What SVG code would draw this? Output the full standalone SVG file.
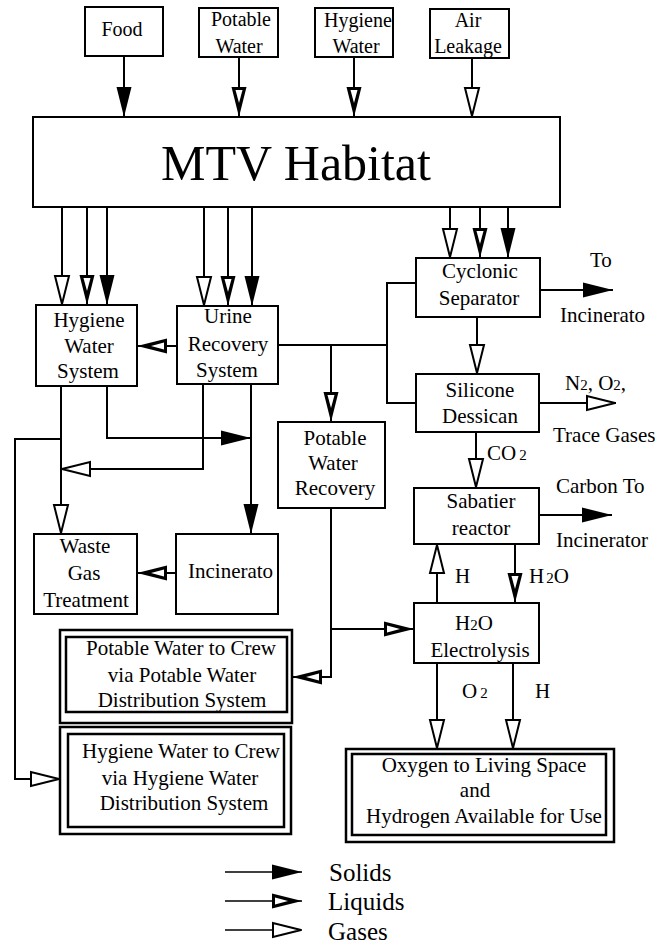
<svg xmlns="http://www.w3.org/2000/svg" width="668" height="948" viewBox="0 0 668 948">
<style>
.box{fill:#fff;stroke:#000;stroke-width:2}
.dbl{fill:none;stroke:#000;stroke-width:2.5}
text{font-family:"Liberation Serif","Times New Roman",serif;fill:#000}
.t{font-size:21px;text-anchor:middle}
.ts{font-size:20px;text-anchor:middle}
.l{font-size:21px}
.lg{font-size:25px}
.sub{font-size:15px}
</style>
<defs>
<marker id="sol" markerUnits="userSpaceOnUse" markerWidth="40" markerHeight="20" viewBox="-35 -10 40 20" refX="0" refY="0" orient="auto" overflow="visible">
<path d="M0,0 L-30,-7.5 L-30,7.5 Z" fill="#000"/>
</marker>
<marker id="liq" markerUnits="userSpaceOnUse" markerWidth="40" markerHeight="20" viewBox="-35 -10 40 20" refX="0" refY="0" orient="auto" overflow="visible">
<path d="M0,0 L-30,-7.5 L-30,7.5 Z" fill="#000"/>
<path d="M-27,-3.5 L-27,3.5 L-14,0 Z" fill="#fff"/>
</marker>
<marker id="gas" markerUnits="userSpaceOnUse" markerWidth="40" markerHeight="20" viewBox="-35 -10 40 20" refX="0" refY="0" orient="auto" overflow="visible">
<path d="M-1,0 L-29,-7 L-29,7 Z" fill="#fff" stroke="#000" stroke-width="2"/>
</marker>
</defs>
<rect width="668" height="948" fill="#fff"/>

<g id="connectors" fill="none" stroke="#000" stroke-width="2">
<path d="M124,56 V117" marker-end="url(#sol)"/>
<path d="M239,57 V117" marker-end="url(#liq)"/>
<path d="M354,57 V117" marker-end="url(#liq)"/>
<path d="M472,58 V117" marker-end="url(#gas)"/>
<path d="M62,207 V305" marker-end="url(#gas)"/>
<path d="M87,207 V305" marker-end="url(#liq)"/>
<path d="M107,207 V305" marker-end="url(#sol)"/>
<path d="M204,207 V306" marker-end="url(#gas)"/>
<path d="M228,207 V306" marker-end="url(#liq)"/>
<path d="M252,207 V306" marker-end="url(#sol)"/>
<path d="M450,207 V258" marker-end="url(#gas)"/>
<path d="M480,207 V258" marker-end="url(#liq)"/>
<path d="M508,207 V258" marker-end="url(#sol)"/>
<path d="M177,346 H137" marker-end="url(#liq)"/>
<path d="M278,345 H387"/>
<path d="M416,283 H387 V403 H416"/>
<path d="M331,345 V422" marker-end="url(#liq)"/>
<path d="M540,290 H613" marker-end="url(#sol)"/>
<path d="M477,317 V374" marker-end="url(#gas)"/>
<path d="M539,403 H616" marker-end="url(#gas)"/>
<path d="M476,432 V488" marker-end="url(#gas)"/>
<path d="M539,515 H612" marker-end="url(#sol)"/>
<path d="M437,603 V544" marker-end="url(#gas)"/>
<path d="M515,544 V603" marker-end="url(#liq)"/>
<path d="M331,508 V677 H292" marker-end="url(#liq)"/>
<path d="M331,629 H414" marker-end="url(#liq)"/>
<path d="M437,663 V749" marker-end="url(#gas)"/>
<path d="M513,663 V749" marker-end="url(#gas)"/>
<path d="M61,386 V534" marker-end="url(#gas)"/>
<path d="M107,386 V438 H251" marker-end="url(#sol)"/>
<path d="M251,384 V534" marker-end="url(#sol)"/>
<path d="M203,384 V469 H61" marker-end="url(#gas)"/>
<path d="M61,439 H15 V779 H60" marker-end="url(#gas)"/>
<path d="M176,573 H137" marker-end="url(#liq)"/>
</g>

<g id="food"><rect class="box" x="85" y="7" width="78" height="49"/><text class="ts" x="122" y="36">Food</text></g>
<g id="potable-water"><rect class="box" x="199" y="8" width="79" height="49"/><text class="ts" x="241" y="26">Potable</text><text class="ts" x="239" y="53">Water</text></g>
<g id="hygiene-water"><rect class="box" x="315" y="8" width="78" height="49"/><text class="ts" x="358" y="27">Hygiene</text><text class="ts" x="356" y="53">Water</text></g>
<g id="air-leakage"><rect class="box" x="430" y="9" width="79" height="49"/><text class="ts" x="468" y="27">Air</text><text class="ts" x="468" y="53">Leakage</text></g>

<g id="habitat"><rect class="box" x="33" y="117" width="527" height="90"/><text x="296" y="180" style="font-size:50px;text-anchor:middle">MTV Habitat</text></g>

<g id="hygiene-water-system"><rect class="box" x="36" y="305" width="101" height="81"/><text class="t" x="89" y="327">Hygiene</text><text class="t" x="89" y="353">Water</text><text class="t" x="88" y="378">System</text></g>
<g id="urine-recovery"><rect class="box" x="177" y="306" width="101" height="78"/><text class="t" x="228" y="323">Urine</text><text class="t" x="228" y="351">Recovery</text><text class="t" x="227" y="377">System</text></g>
<g id="potable-water-recovery"><rect class="box" x="278" y="422" width="107" height="86"/><text class="t" x="335" y="445">Potable</text><text class="t" x="333" y="470">Water</text><text class="t" x="335" y="495">Recovery</text></g>

<g id="cyclonic-separator"><rect class="box" x="416" y="258" width="124" height="59"/><text class="t" x="480" y="278">Cyclonic</text><text class="t" x="479" y="305">Separator</text></g>
<g id="silicone-dessican"><rect class="box" x="416" y="374" width="123" height="58"/><text class="t" x="480" y="397">Silicone</text><text class="t" x="480" y="423">Dessican</text></g>
<g id="sabatier-reactor"><rect class="box" x="414" y="488" width="125" height="56"/><text class="t" x="481" y="508">Sabatier</text><text class="t" x="481" y="535">reactor</text></g>
<g id="electrolysis"><rect class="box" x="414" y="603" width="125" height="60"/><text class="t" x="474" y="630">H<tspan class="sub">2</tspan>O</text><text class="t" x="480" y="657">Electrolysis</text></g>

<g id="waste-gas-treatment"><rect class="box" x="34" y="534" width="103" height="80"/><text class="t" x="85" y="553">Waste</text><text class="t" x="84" y="580">Gas</text><text class="t" x="86" y="607">Treatment</text></g>
<g id="incinerator"><rect class="box" x="176" y="534" width="102" height="80"/><text class="l" x="188" y="578">Incinerato</text></g>

<g id="potable-water-to-crew"><rect class="dbl" x="60" y="630" width="232" height="93"/><rect class="dbl" x="66" y="637" width="221" height="75"/><text class="t" x="181" y="655">Potable Water to Crew</text><text class="t" x="182" y="682">via Potable Water</text><text class="t" x="182" y="707">Distribution System</text></g>
<g id="hygiene-water-to-crew"><rect class="dbl" x="60" y="727" width="231" height="107"/><rect class="dbl" x="68" y="734" width="216" height="93"/><text class="t" x="181" y="758">Hygiene Water to Crew</text><text class="t" x="180" y="785">via Hygiene Water</text><text class="t" x="184" y="810">Distribution System</text></g>
<g id="oxygen-hydrogen"><rect class="dbl" x="346" y="749" width="268" height="93"/><rect class="dbl" x="352" y="754" width="254" height="81"/><text class="t" x="484" y="772">Oxygen to Living Space</text><text class="t" x="475" y="797">and</text><text class="t" x="484" y="823">Hydrogen Available for Use</text></g>

<g id="labels">
<text class="l" x="590" y="267">To</text>
<text class="l" x="560" y="322">Incinerato</text>
<text class="l" x="565" y="390">N<tspan class="sub">2</tspan>, O<tspan class="sub">2</tspan>,</text>
<text class="l" x="553" y="442">Trace Gases</text>
<text class="l" x="487" y="460">CO<tspan class="sub" dx="3">2</tspan></text>
<text class="l" x="556" y="493">Carbon To</text>
<text class="l" x="556" y="547">Incinerator</text>
<text class="l" x="455" y="583">H</text>
<text class="l" x="529" y="583">H<tspan class="sub" dx="2">2</tspan>O</text>
<text class="l" x="462" y="698">O<tspan class="sub" dx="3">2</tspan></text>
<text class="l" x="535" y="698">H</text>
</g>

<g id="legend">
<g fill="none" stroke="#000" stroke-width="1.5">
<path d="M225,872 H302" marker-end="url(#sol)"/>
<path d="M225,901 H302" marker-end="url(#liq)"/>
<path d="M225,930 H302" marker-end="url(#gas)"/>
</g>
<text class="lg" x="329" y="881">Solids</text>
<text class="lg" x="328" y="910">Liquids</text>
<text class="lg" x="328" y="940">Gases</text>
</g>
</svg>
